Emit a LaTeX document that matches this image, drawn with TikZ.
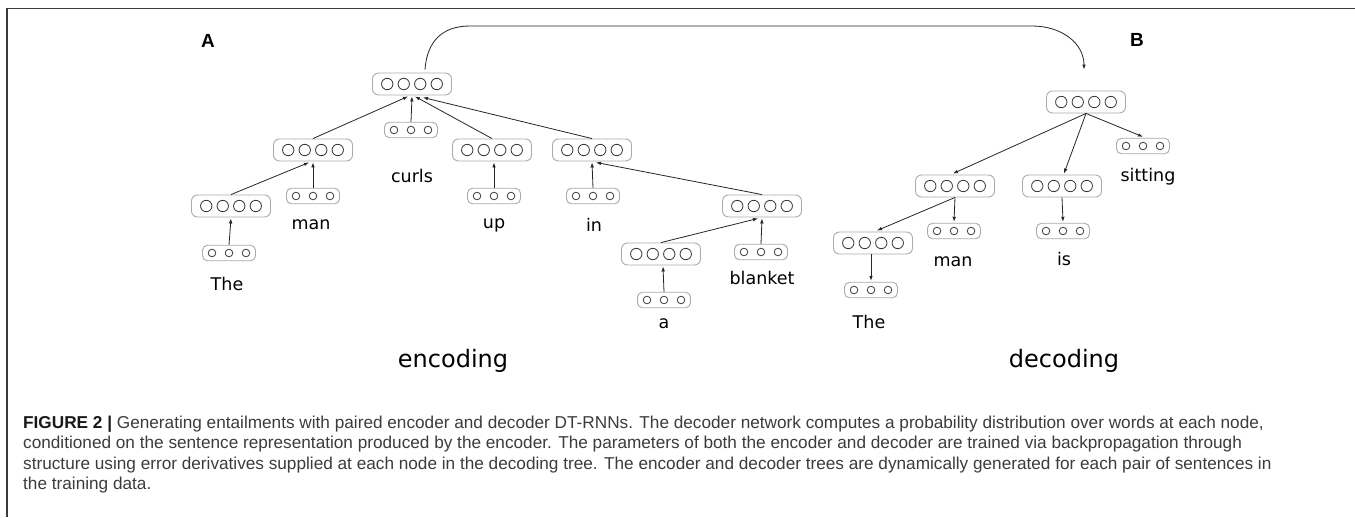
\documentclass[tikz,border=0pt]{standalone}
\usepackage{fontspec}
\usetikzlibrary{arrows.meta,calc}
\newfontfamily\labfont{DejaVu Sans}
\newfontfamily\capfont{Liberation Sans}
\definecolor{boxgray}{HTML}{AAAAAA}
\definecolor{circgray}{HTML}{3A3A3A}
\definecolor{framegray}{HTML}{3A3A3A}
\definecolor{captext}{HTML}{3C3C3C}
\begin{document}
\begin{tikzpicture}[x=1pt,y=-1pt,
  four/.style={draw=boxgray, line width=0.9pt, rounded corners=6pt,
    minimum width=79pt, minimum height=22pt, inner sep=0pt,
    path picture={\foreach \i in {-1.5,-0.5,0.5,1.5}{
      \draw[circgray,line width=0.8pt] ($(path picture bounding box.center)+(\i*16.5,0)$) circle[radius=5.7pt];}}},
  three/.style={draw=boxgray, line width=0.9pt, rounded corners=5pt,
    minimum width=53pt, minimum height=15.5pt, inner sep=0pt,
    path picture={\foreach \i in {-1,0,1}{
      \draw[circgray,line width=0.8pt] ($(path picture bounding box.center)+(\i*17,0)$) circle[radius=3.8pt];}}},
  lab/.style={font=\labfont\fontsize{17.5}{20}\selectfont, anchor=base, inner sep=0pt},
  big/.style={font=\labfont\fontsize{24}{28}\selectfont, anchor=base, inner sep=0pt},
  panel/.style={font=\capfont\bfseries\fontsize{19}{22}\selectfont, inner sep=0pt},
  capline/.style={font=\capfont\fontsize{17.2}{21}\selectfont, text=captext, anchor=base west, inner sep=0pt},
  arr/.style={draw=black!85, line width=0.8pt, -{Latex[length=5pt,width=3.6pt]}}
]
\useasboundingbox (0,0) rectangle (1355,517);
\fill[white] (0,0) rectangle (1355,517);
% frame
\draw[framegray, line width=1.3pt] (7,517) -- (7,8.5) -- (1355,8.5);

% panel labels
\node[panel] (A) at (208,41) {A};
\node[panel] (B) at (1137,40) {B};

% ---------- encoder ----------
\node[four]  (eroot)  at (412,84) {};
\node[three] (ecurls) at (411,130) {};
\node[four]  (emanP)  at (313,150) {};
\node[four]  (eupP)   at (492,150) {};
\node[four]  (einP)   at (592,150) {};
\node[four]  (etheP)  at (231,206) {};
\node[three] (eman)   at (313,196) {};
\node[three] (eup)    at (494,196) {};
\node[three] (ein)    at (593,196) {};
\node[three] (ethe)   at (229,253) {};
\node[four]  (eblP)   at (762,206) {};
\node[three] (ebl)    at (761,252) {};
\node[four]  (eaP)    at (661,254) {};
\node[three] (ea)     at (664,300) {};

\node[lab] (tThe)   at (227,290) {The};
\node[lab] (tman)   at (311,229) {man};
\node[lab] (tcurls) at (412,182) {curls};
\node[lab] (tup)    at (494,228) {up};
\node[lab] (tin)    at (594,231) {in};
\node[lab] (ta)     at (664,328) {a};
\node[lab] (tbl)    at (762,284) {blanket};
\node[big] (tenc)   at (453,367) {encoding};

\draw[arr] (emanP.north)  -- ([xshift=-4pt,yshift=-1pt]eroot.south);
\draw[arr] (ecurls.north) -- ([yshift=-1pt]eroot.south);
\draw[arr] (eupP.north)   -- ([xshift=3pt,yshift=-1pt]eroot.south);
\draw[arr] (einP.north)   -- ([xshift=11pt,yshift=-2pt]eroot.south);
\draw[arr] (etheP.north)  -- ([xshift=-4pt,yshift=-1pt]emanP.south);
\draw[arr] (eman.north)   -- ([yshift=-1pt]emanP.south);
\draw[arr] (eup.north)    -- ([xshift=2pt,yshift=-1pt]eupP.south);
\draw[arr] (ein.north)    -- ([yshift=-1pt]einP.south);
\draw[arr] (eblP.north)   -- ([xshift=4pt,yshift=-1pt]einP.south);
\draw[arr] (ethe.north)   -- ([yshift=-1pt]etheP.south);
\draw[arr] (eaP.north)    -- ([xshift=-4pt,yshift=-1pt]eblP.south);
\draw[arr] (ebl.north)    -- ([yshift=-1pt]eblP.south);
\draw[arr] (ea.north)     -- ([xshift=2pt,yshift=-1pt]eaP.south);

% ---------- decoder ----------
\node[four]  (droot) at (1086,102) {};
\node[three] (dsit)  at (1143,146) {};
\node[four]  (dmanP) at (955,186) {};
\node[four]  (disP)  at (1062,186) {};
\node[four]  (dtheP) at (873,243) {};
\node[three] (dman)  at (954,231) {};
\node[three] (dis)   at (1063,231) {};
\node[three] (dthe)  at (871,290) {};

\node[lab] (tsit)  at (1148,181) {sitting};
\node[lab] (tdman) at (953,266) {man};
\node[lab] (tis)   at (1064,265) {is};
\node[lab] (tdThe) at (869,328) {The};
\node[big] (tdec)  at (1064,367) {decoding};

\draw[arr] (droot.south) -- ([xshift=-2pt,yshift=1pt]dmanP.north);
\draw[arr] (droot.south) -- ([xshift=2pt,yshift=1pt]disP.north);
\draw[arr] (droot.south) -- ([yshift=1pt]dsit.north);
\draw[arr] (dmanP.south) -- ([xshift=4pt,yshift=1pt]dtheP.north);
\draw[arr] (dmanP.south) -- ([yshift=1pt]dman.north);
\draw[arr] (disP.south)  -- ([yshift=1pt]dis.north);
\draw[arr] ([xshift=-2pt]dtheP.south) -- ([yshift=1pt]dthe.north);

% encoder -> decoder
\coordinate (cs) at ([xshift=13pt,yshift=3pt]eroot.north);
\coordinate (ce) at ([xshift=-2pt,yshift=21pt]droot.north);
\draw[arr] (cs) .. controls +(2,-28) and (442,26) .. (470,26) -- (1032,26)
  .. controls (1062,26) and ($(ce)+(0,-26)$) .. (ce);

% caption
\node[capline] (c1) at (23,428) {{\bfseries\color{black!90}FIGURE 2 |} Generating entailments with paired encoder and decoder DT-RNNs. The decoder network computes a probability distribution over words at each node,};
\node[capline] (c2) at (23,448.5) {conditioned on the sentence representation produced by the encoder. The parameters of both the encoder and decoder are trained via backpropagation through};
\node[capline] (c3) at (23,469) {structure using error derivatives supplied at each node in the decoding tree. The encoder and decoder trees are dynamically generated for each pair of sentences in};
\node[capline] (c4) at (23,489.5) {the training data.};
\end{tikzpicture}
\end{document}
